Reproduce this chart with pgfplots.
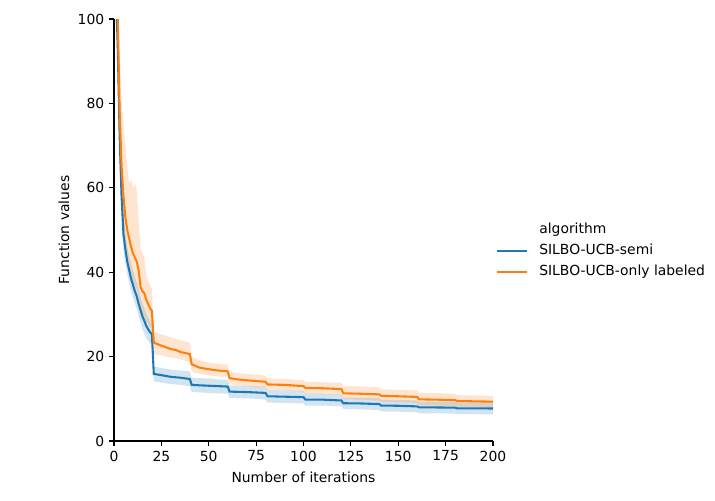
\documentclass[border=0pt]{standalone}
\usepackage{fontspec}
\setmainfont{DejaVu Sans}
\usepackage{pgfplots}
\pgfplotsset{compat=1.18}
\usepackage{pgfplotstable}
\usepgfplotslibrary{fillbetween}
\definecolor{sbblue}{HTML}{1F77B4}
\definecolor{sborange}{HTML}{FF7F0E}

\pgfplotstableread{
x mean lo hi
0 118 108 128
1 108 100 116
2 93 85 101
3 72 65 80
4 58 53 64
5 49 45 54
6 45.5 42 49.5
7 42.5 39.5 46
8 40.5 37.5 44
9 38.5 35.5 42
10 37 34 40.5
11 35.5 32.5 39
12 34.3 31.3 37.5
13 32.5 29.5 35.7
14 31 28 34.2
15 29.5 26.5 32.7
16 28.5 25.5 31.6
17 27.3 24.5 30.3
18 26.5 23.7 29.3
19 25.8 23.2 28.5
20 25.3 22.8 28
21 15.9 14.1 17.7
25 15.6 13.8 17.3
30 15.2 13.5 16.9
35 15.0 13.3 16.7
40 14.7 13.0 16.5
41 13.3 11.6 15.0
45 13.2 11.5 14.9
50 13.1 11.4 14.8
55 13.0 11.3 14.6
60 12.9 11.2 14.5
61 11.7 10.2 13.2
70 11.6 10.1 13.1
75 11.5 10.0 13.0
80 11.4 9.8 12.9
81 10.6 9.1 12.1
90 10.5 9.0 12.0
100 10.4 8.9 11.9
101 9.8 8.4 11.2
110 9.8 8.4 11.2
120 9.6 8.2 11.0
121 8.95 7.6 10.3
130 8.9 7.5 10.3
140 8.75 7.35 10.2
141 8.4 7.0 9.8
150 8.35 6.95 9.75
160 8.2 6.8 9.6
161 7.95 6.55 9.35
170 7.95 6.55 9.35
180 7.9 6.5 9.3
181 7.75 6.35 9.15
190 7.75 6.35 9.15
200 7.7 6.3 9.1
}\semi

\pgfplotstableread{
x mean lo hi
0 120 110 130
1 112 104 120
2 100 91 108
3 78 69 91
4 65 57 80
5 58 51 75
6 53 47 70
7 50 44 65
8 48 41.5 61
9 46 39.5 62
10 44.5 38 60
11 43.5 37 61
12 42.5 36 59.5
13 40.5 34.5 52
14 36.5 31 45.5
15 35.5 30 44.5
16 35 29.5 43.5
17 33.5 28.5 39
18 32.5 27.8 38
19 31.5 27 37
20 30.8 26.8 36
21 23.3 20.5 26.0
25 22.6 20.3 25.3
30 21.8 19.8 24.6
33 21.5 19.6 24.2
35 21.1 19.3 23.8
40 20.6 18.8 23.3
41 18.2 16.4 19.9
45 17.4 15.9 19.2
50 17.0 15.6 18.6
55 16.7 15.3 18.3
60 16.5 15.2 18.1
61 14.9 13.5 16.4
65 14.6 13.2 16.1
70 14.4 13.0 15.9
75 14.2 12.8 15.7
80 14.05 12.7 15.5
81 13.4 12.1 14.85
90 13.3 12.0 14.7
100 13.0 11.7 14.4
101 12.6 11.2 14.05
110 12.5 11.1 13.9
120 12.3 10.9 13.8
121 11.3 9.9 13.0
130 11.2 9.8 12.9
140 11.05 9.6 12.7
141 10.7 9.3 12.25
150 10.6 9.2 12.1
160 10.45 9.0 12.0
161 9.87 8.5 11.45
170 9.8 8.4 11.35
180 9.7 8.3 11.2
181 9.48 8.1 10.9
190 9.4 8.05 10.8
200 9.32 7.95 10.7
}\onlylab

\begin{document}
\begin{tikzpicture}
\path (0,0) rectangle (514.8pt,360pt);
\begin{axis}[
  at={(82.08pt,42.48pt)}, anchor=south west,
  scale only axis, width=272.88pt, height=303.84pt,
  xmin=0, xmax=200, ymin=0, ymax=100,
  axis lines=left,
  axis line style={-, line width=0.8pt, black},
  xtick={0,25,...,200}, ytick={0,20,...,100},
  tick align=outside, major tick length=3.5pt,
  tick style={line width=0.8pt, black},
  /pgf/number format/assume math mode=true,
  ticklabel style={font=\fontsize{10}{12}\selectfont},
  xlabel={Number of iterations}, ylabel={Function values},
  x label style={at={(axis description cs:0.5,-0.0853)}, anchor=center, font=\fontsize{10}{12}\selectfont},
  y label style={at={(axis description cs:-0.1319,0.5)}, anchor=center, font=\fontsize{10}{12}\selectfont},
  legend style={at={(axis description cs:1.0079,0.45)}, anchor=west, draw=none, fill=none,
    inner sep=0pt, row sep=5.12pt, column sep=7.9pt,
    font=\fontsize{10}{12}\selectfont,
    nodes={inner sep=0pt, text height=7.5pt, text depth=2.5pt}},
  legend cell align=left,
  legend image code/.code={\draw[#1] (0pt,0pt) -- (21.6pt,0pt);},
]
\addlegendimage{empty legend}
\addlegendentry{algorithm}
\addplot[draw=none, name path=shi, forget plot] table[x=x, y=hi] {\semi};
\addplot[draw=none, name path=slo, forget plot] table[x=x, y=lo] {\semi};
\addplot[fill=sbblue, fill opacity=0.2, draw=none, forget plot] fill between[of=shi and slo];
\addplot[sbblue, line width=1.5pt] table[x=x, y=mean] {\semi};
\addlegendentry{SILBO-UCB-semi}
\addplot[draw=none, name path=ohi, forget plot] table[x=x, y=hi] {\onlylab};
\addplot[draw=none, name path=olo, forget plot] table[x=x, y=lo] {\onlylab};
\addplot[fill=sborange, fill opacity=0.2, draw=none, forget plot] fill between[of=ohi and olo];
\addplot[sborange, line width=1.5pt] table[x=x, y=mean] {\onlylab};
\addlegendentry{SILBO-UCB-only labeled}
\end{axis}
\end{tikzpicture}
\end{document}
